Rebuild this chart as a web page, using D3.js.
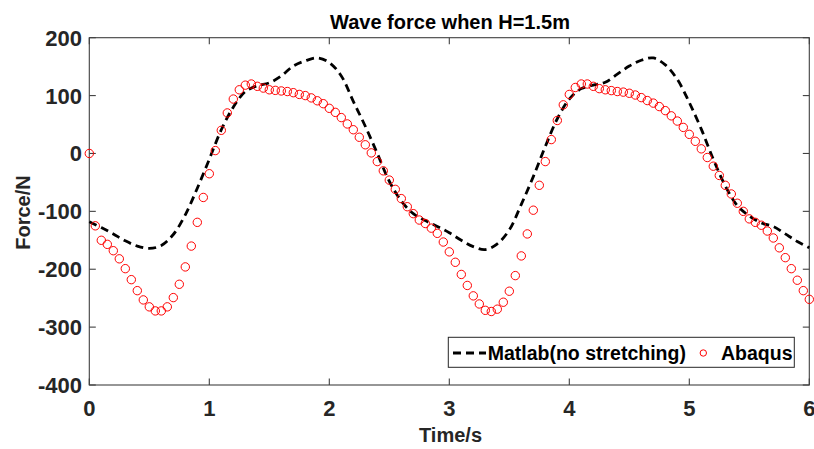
<!DOCTYPE html>
<html><head><meta charset="utf-8">
<script src="https://cdn.jsdelivr.net/npm/d3@7"></script>
<style>body{margin:0;background:#fff}svg{display:block}</style>
</head><body><svg id="c" width="814" height="449"></svg>
<script>
const title = "Wave force when H=1.5m";
const xLabel = "Time/s";
const yLabel = "Force/N";
const xTicks = [0,1,2,3,4,5,6];
const yTicks = [200,100,0,-100,-200,-300,-400];
const seriesNames = ["Matlab(no stretching)", "Abaqus"];

const matlabTime = [0,0.1,0.2,0.3,0.4,0.5,0.6,0.7,0.8,0.9,1.0,1.1,1.2,1.3,1.4,1.5,1.6,1.7,1.8,1.9,2.0,2.1,2.2,2.3,2.4,2.5,2.6,2.7,2.8,2.9,3.0,3.1,3.2,3.3,3.4,3.5,3.6,3.7,3.8,3.9,4.0,4.1,4.2,4.3,4.4,4.5,4.6,4.7,4.8,4.9,5.0,5.1,5.2,5.3,5.4,5.5,5.6,5.7,5.8,5.9,6.0];
const matlabForce = [-118,-128,-139,-151,-160,-164,-159,-140,-106,-60,-10,41,80,107,117,122,134,151,160,165,157,134,90,47,0,-48,-82,-104,-116,-126,-137,-150,-161,-166,-156,-132,-88,-40,12,60,94,112,118,123,137,151,161,165,153,128,88,42,-10,-56,-90,-108,-120,-126,-139,-152,-163];

const abaqusTime = [0,0.05,0.1,0.15,0.2,0.25,0.3,0.35,0.4,0.45,0.5,0.55,0.6,0.65,0.7,0.75,0.8,0.85,0.9,0.95,1.0,1.05,1.1,1.15,1.2,1.25,1.3,1.35,1.4,1.45,1.5,1.55,1.6,1.65,1.7,1.75,1.8,1.85,1.9,1.95,2.0,2.05,2.1,2.15,2.2,2.25,2.3,2.35,2.4,2.45,2.5,2.55,2.6,2.65,2.7,2.75,2.8,2.85,2.9,2.95,3.0,3.05,3.1,3.15,3.2,3.25,3.3,3.35,3.4,3.45,3.5,3.55,3.6,3.65,3.7,3.75,3.8,3.85,3.9,3.95,4.0,4.05,4.1,4.15,4.2,4.25,4.3,4.35,4.4,4.45,4.5,4.55,4.6,4.65,4.7,4.75,4.8,4.85,4.9,4.95,5.0,5.05,5.1,5.15,5.2,5.25,5.3,5.35,5.4,5.45,5.5,5.55,5.6,5.65,5.7,5.75,5.8,5.85,5.9,5.95,6.0];
const abaqusForce = [0,-125,-150,-157,-168,-182,-199,-218,-237,-253,-265,-272,-272,-265,-249,-226,-196,-160,-119,-76,-35,5,40,70,94,110,118,120,116,113,110,109,108,107,105,102,100,96,91,86,78,71,62,51,41,28,15,1,-14,-30,-46,-62,-78,-92,-104,-115,-121,-129,-138,-153,-170,-188,-209,-228,-246,-260,-271,-273,-269,-257,-238,-211,-177,-139,-98,-55,-14,24,57,84,102,114,120,120,116,112,110,108.6,107,106,104,101,96.5,91.4,87,81,74,65,56,45,33,21,8,-7,-22,-38,-55,-70,-86,-100,-113,-119,-124,-134,-146,-163,-180,-199,-219,-237,-252];

const svg = d3.select("#c");
const L = 89.3, R = 809.3, T = 37.7, B = 385;
const x = d3.scaleLinear().domain([0,6]).range([L,R]);
const y = d3.scaleLinear().domain([-400,200]).range([B,T]);
const font = "'Liberation Sans', Arial, sans-serif";
const axisCol = "#404040";

// axes box
svg.append("rect").attr("x",L).attr("y",T).attr("width",R-L).attr("height",B-T)
  .attr("fill","none").attr("stroke",axisCol).attr("stroke-width",1.1);

// ticks (inward)
const tk = 6.5;
const g = svg.append("g").attr("stroke",axisCol).attr("stroke-width",1.1);
xTicks.forEach(t => {
  g.append("line").attr("x1",x(t)).attr("x2",x(t)).attr("y1",B).attr("y2",B-tk);
  g.append("line").attr("x1",x(t)).attr("x2",x(t)).attr("y1",T).attr("y2",T+tk);
});
yTicks.forEach(v => {
  g.append("line").attr("x1",L).attr("x2",L+tk).attr("y1",y(v)).attr("y2",y(v));
  g.append("line").attr("x1",R).attr("x2",R-tk).attr("y1",y(v)).attr("y2",y(v));
});

// tick labels
svg.append("g").selectAll("text").data(xTicks).join("text")
  .attr("x",d=>x(d)).attr("y",416).attr("text-anchor","middle")
  .attr("font-family",font).attr("font-weight","bold").attr("font-size",22)
  .attr("fill","#262626").text(d=>d);
svg.append("g").selectAll("text").data(yTicks).join("text")
  .attr("x",82).attr("y",d=>y(d)+8).attr("text-anchor","end")
  .attr("font-family",font).attr("font-weight","bold").attr("font-size",22)
  .attr("fill","#262626").text(d=>d);

// title and labels
svg.append("text").attr("x",450).attr("y",28.5).attr("text-anchor","middle")
  .attr("font-family",font).attr("font-weight","bold").attr("font-size",20)
  .attr("fill","#000").text(title);
svg.append("text").attr("x",450.5).attr("y",441.5).attr("text-anchor","middle")
  .attr("font-family",font).attr("font-weight","bold").attr("font-size",20)
  .attr("fill","#262626").text(xLabel);
svg.append("text").attr("transform","translate(30,212.5) rotate(-90)").attr("text-anchor","middle")
  .attr("font-family",font).attr("font-weight","bold").attr("font-size",20)
  .attr("fill","#262626").text(yLabel);

// Matlab dashed line
const line = d3.line().x(d=>x(d[0])).y(d=>y(d[1])).curve(d3.curveCatmullRom);
svg.append("path").datum(matlabTime.map((t,i)=>[t,matlabForce[i]]))
  .attr("d",line).attr("fill","none").attr("stroke","#000")
  .attr("stroke-width",2.8).attr("stroke-dasharray","8,5");

// Abaqus circles
svg.append("g").selectAll("circle").data(abaqusTime.map((t,i)=>[t,abaqusForce[i]])).join("circle")
  .attr("cx",d=>x(d[0])).attr("cy",d=>y(d[1])).attr("r",4.2)
  .attr("fill","none").attr("stroke","#ff0000").attr("stroke-width",1);

// legend
const lg = svg.append("g");
lg.append("rect").attr("x",448.3).attr("y",337.3).attr("width",346).attr("height",30)
  .attr("fill","#fff").attr("stroke","#262626").attr("stroke-width",1);
lg.append("line").attr("x1",453).attr("x2",486).attr("y1",353).attr("y2",353)
  .attr("stroke","#000").attr("stroke-width",2.8).attr("stroke-dasharray","8,5");
lg.append("text").attr("x",487.7).attr("y",360).attr("font-family",font).attr("font-weight","bold")
  .attr("font-size",19.5).attr("fill","#000").text(seriesNames[0]);
lg.append("circle").attr("cx",703.3).attr("cy",353).attr("r",3.2)
  .attr("fill","none").attr("stroke","#ff0000").attr("stroke-width",1);
lg.append("text").attr("x",721).attr("y",360).attr("font-family",font).attr("font-weight","bold")
  .attr("font-size",19.5).attr("fill","#000").text(seriesNames[1]);
</script></body></html>
